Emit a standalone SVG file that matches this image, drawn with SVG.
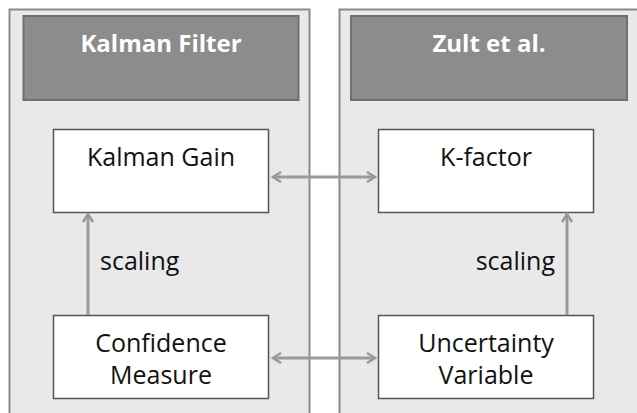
<svg xmlns="http://www.w3.org/2000/svg" width="637" height="413" viewBox="0 0 637 413">
<defs>
<marker id="ah" viewBox="0 0 12 12" refX="10" refY="6" markerWidth="12" markerHeight="12" markerUnits="userSpaceOnUse" orient="auto-start-reverse">
<path d="M2,1 L10,6 L2,11" fill="none" stroke="#999" stroke-width="2.5"/>
</marker>
<style>
.panel{fill:#e9e9e9;stroke:#8a8a8a;stroke-width:2}
.head{fill:#8c8c8c;stroke:#6f6f6f;stroke-width:2}
.box{fill:#fff;stroke:#555;stroke-width:1.5}
.ht{font-family:"Open Sans",sans-serif;font-weight:bold;font-size:24px;fill:#fff;text-anchor:middle}
.t{font-family:"Open Sans",sans-serif;font-size:25px;fill:#111;text-anchor:middle}
.lb{font-family:"Open Sans",sans-serif;font-size:25px;fill:#111}
.c{stroke:#999;stroke-width:3;fill:none;marker-end:url(#ah)}
</style>
</defs>
<g id="panel-kalman">
<rect class="panel" x="9.5" y="9.5" width="300" height="420"/>
<rect class="head" x="23.5" y="16" width="275" height="84"/>
<text class="ht" x="161" y="52">Kalman Filter</text>
</g>
<g id="panel-zult">
<rect class="panel" x="339.5" y="9.5" width="310" height="420"/>
<rect class="head" x="351" y="16" width="276" height="84"/>
<text class="ht" x="489" y="52">Zult et al.</text>
</g>
<g id="kalman-gain">
<rect class="box" x="53.5" y="129.5" width="215" height="83"/>
<text class="t" x="161" y="166">Kalman Gain</text>
</g>
<g id="confidence-measure">
<rect class="box" x="53.5" y="315.5" width="215" height="83"/>
<text class="t" x="161" y="352">Confidence</text>
<text class="t" x="161" y="384">Measure</text>
</g>
<g id="k-factor">
<rect class="box" x="378.5" y="129.5" width="215" height="83"/>
<text class="t" x="486" y="166">K-factor</text>
</g>
<g id="uncertainty-variable">
<rect class="box" x="378.5" y="315.5" width="215" height="83"/>
<text class="t" x="486" y="352">Uncertainty</text>
<text class="t" x="486" y="384">Variable</text>
</g>
<g id="connectors">
<line class="c" x1="88" y1="315" x2="88" y2="214" />
<text class="lb" x="100" y="270">scaling</text>
<line class="c" x1="567" y1="315" x2="567" y2="214" />
<text class="lb" x="555" y="270" text-anchor="end">scaling</text>
<line class="c" x1="273" y1="177" x2="375" y2="177" style="marker-start:url(#ah)"/>
<line class="c" x1="273" y1="358" x2="375" y2="358" style="marker-start:url(#ah)"/>
</g>
</svg>
